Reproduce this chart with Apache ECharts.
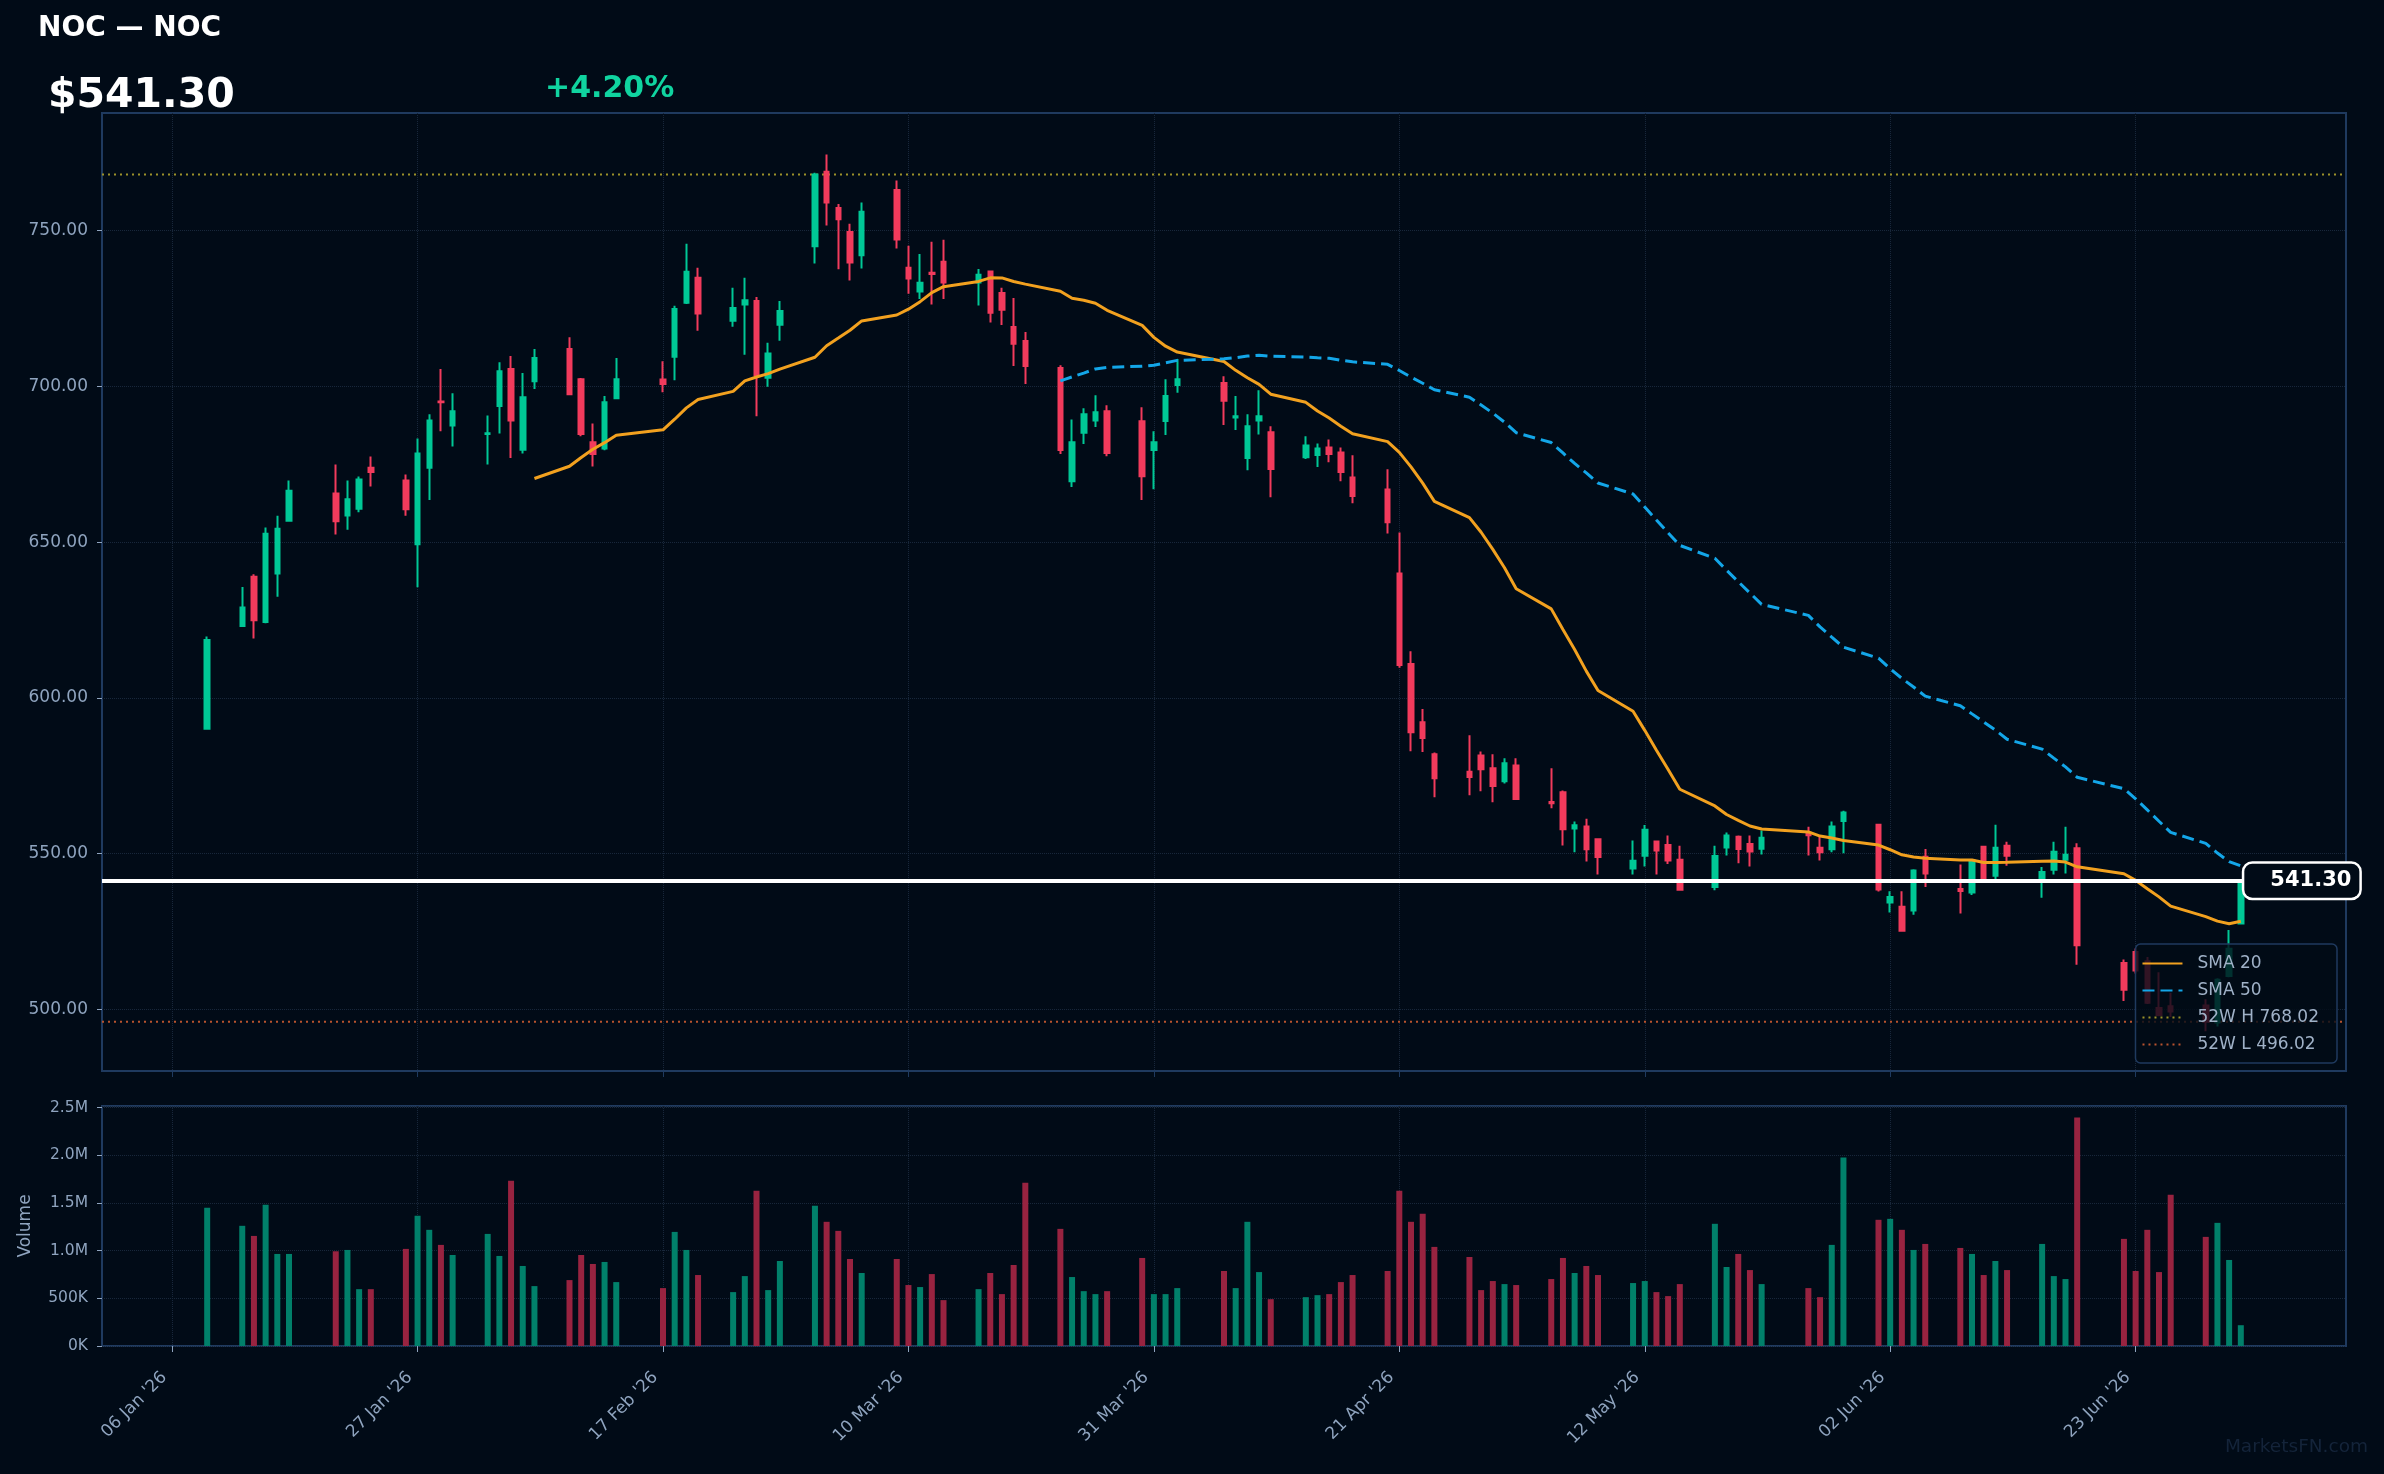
<!DOCTYPE html>
<html>
<head>
<meta charset="utf-8">
<title>NOC — NOC</title>
<script src="https://cdn.jsdelivr.net/npm/echarts@6/dist/echarts.min.js"></script>
<style>
  html, body { margin: 0; padding: 0; background: #010b17; }
  #chart { width: 2384px; height: 1474px; }
</style>
</head>
<body>
<div id="chart"></div>
<script>
// trading days (NYSE calendar, Jan 9 - Jul 2 2026)
var dates = [
    '2026-01-09','2026-01-12','2026-01-13','2026-01-14','2026-01-15','2026-01-16','2026-01-20','2026-01-21','2026-01-22','2026-01-23','2026-01-26','2026-01-27','2026-01-28','2026-01-29','2026-01-30',
    '2026-02-02','2026-02-03','2026-02-04','2026-02-05','2026-02-06','2026-02-09','2026-02-10','2026-02-11','2026-02-12','2026-02-13','2026-02-17','2026-02-18','2026-02-19','2026-02-20','2026-02-23','2026-02-24','2026-02-25','2026-02-26','2026-02-27',
    '2026-03-02','2026-03-03','2026-03-04','2026-03-05','2026-03-06','2026-03-09','2026-03-10','2026-03-11','2026-03-12','2026-03-13','2026-03-16','2026-03-17','2026-03-18','2026-03-19','2026-03-20','2026-03-23','2026-03-24','2026-03-25','2026-03-26','2026-03-27','2026-03-30','2026-03-31',
    '2026-04-01','2026-04-02','2026-04-06','2026-04-07','2026-04-08','2026-04-09','2026-04-10','2026-04-13','2026-04-14','2026-04-15','2026-04-16','2026-04-17','2026-04-20','2026-04-21','2026-04-22','2026-04-23','2026-04-24','2026-04-27','2026-04-28','2026-04-29','2026-04-30',
    '2026-05-01','2026-05-04','2026-05-05','2026-05-06','2026-05-07','2026-05-08','2026-05-11','2026-05-12','2026-05-13','2026-05-14','2026-05-15','2026-05-18','2026-05-19','2026-05-20','2026-05-21','2026-05-22','2026-05-26','2026-05-27','2026-05-28','2026-05-29',
    '2026-06-01','2026-06-02','2026-06-03','2026-06-04','2026-06-05','2026-06-08','2026-06-09','2026-06-10','2026-06-11','2026-06-12','2026-06-15','2026-06-16','2026-06-17','2026-06-18','2026-06-22','2026-06-23','2026-06-24','2026-06-25','2026-06-26','2026-06-29','2026-06-30',
    '2026-07-01','2026-07-02'
];
var opens = [
    590.1, 623.1, 638.9, 624.4, 639.9, 656.9, 665.6, 658.6, 660.7, 673.9, 669.8, 649.3, 673.9, 695.2, 687.5,
    684.7, 693.7, 705.6, 679.7, 701.7, 712.0, 702.3, 682.1, 680.1, 696.2, 702.2, 709.5, 726.9, 734.9, 721.1, 726.3, 727.4, 702.8, 719.8,
    745.0, 768.9, 757.3, 749.6, 742.1, 763.1, 738.1, 730.5, 736.5, 740.0, 733.4, 736.9, 730.0, 719.1, 714.6, 705.9, 669.6, 685.1, 689.1, 692.0, 688.8, 679.6,
    688.9, 700.5, 701.1, 690.0, 677.0, 689.1, 685.3, 677.3, 678.0, 680.4, 678.8, 670.8, 666.9, 639.9, 610.9, 592.2, 581.9, 576.3, 581.5, 577.4, 573.2,
    578.3, 566.6, 569.7, 558.1, 558.7, 554.6, 545.2, 549.3, 553.9, 552.8, 548.0, 539.3, 552.0, 555.4, 553.1, 551.6, 556.7, 551.9, 551.4, 560.5,
    559.3, 534.3, 532.9, 531.7, 549.0, 538.6, 537.5, 552.2, 542.9, 552.5, 541.2, 544.8, 548.0, 551.7, 514.9, 518.4, 515.4, 500.4, 501.0, 501.2, 495.8,
    510.7, 527.6
];
var highs = [
    619.7, 635.6, 639.7, 654.7, 658.5, 669.8, 674.9, 669.8, 671.1, 677.5, 671.7, 683.3, 691.1, 705.6, 697.8,
    690.7, 707.8, 709.8, 704.3, 712.0, 715.8, 702.7, 688.1, 696.9, 709.1, 708.1, 725.9, 745.8, 738.1, 731.7, 734.9, 728.7, 714.0, 727.4,
    768.6, 774.5, 758.6, 752.2, 759.1, 766.1, 745.2, 742.5, 746.5, 747.1, 737.7, 737.1, 731.7, 728.4, 717.5, 706.8, 689.4, 693.0, 697.2, 694.0, 693.3, 685.6,
    702.3, 708.8, 703.3, 696.9, 691.1, 698.8, 687.2, 684.0, 681.7, 683.0, 680.4, 677.9, 673.4, 653.1, 615.0, 596.4, 582.5, 588.0, 582.8, 581.9, 580.6,
    580.6, 577.4, 570.3, 560.3, 561.2, 554.8, 554.2, 559.2, 554.2, 555.8, 552.5, 552.5, 556.8, 555.8, 555.8, 557.4, 558.6, 555.4, 560.3, 563.8,
    559.6, 537.9, 537.9, 545.0, 551.5, 546.5, 548.3, 552.5, 559.3, 553.8, 545.7, 553.8, 558.6, 553.3, 516.0, 519.5, 516.8, 511.9, 505.3, 503.2, 510.0,
    525.5, 541.8
];
var lows = [
    590.0, 622.8, 619.1, 624.0, 632.5, 656.7, 652.5, 654.0, 659.6, 667.9, 658.5, 635.5, 663.5, 685.6, 680.7,
    674.9, 684.9, 677.0, 678.5, 699.2, 697.3, 684.0, 674.3, 679.5, 695.9, 698.1, 702.0, 726.5, 717.9, 719.2, 710.2, 690.4, 699.9, 714.7,
    739.5, 751.7, 737.6, 734.0, 737.9, 744.3, 729.8, 728.1, 726.3, 728.1, 726.0, 720.5, 719.7, 706.6, 700.8, 678.3, 667.7, 681.5, 687.0, 677.6, 663.5, 667.0,
    684.4, 698.0, 687.6, 686.0, 673.1, 684.6, 664.4, 676.7, 674.1, 675.7, 669.6, 662.5, 652.8, 609.7, 582.9, 582.6, 568.1, 568.7, 570.0, 566.5, 572.5,
    567.3, 564.6, 552.6, 550.4, 547.5, 543.3, 543.3, 545.9, 543.3, 546.7, 538.2, 538.2, 549.4, 546.9, 545.9, 549.7, 549.4, 547.8, 550.4, 550.1,
    537.8, 531.1, 524.9, 530.4, 539.3, 530.8, 536.7, 541.0, 541.3, 546.1, 535.8, 543.3, 543.6, 514.3, 502.7, 511.5, 501.7, 497.8, 497.5, 493.0, 494.5,
    510.3, 527.3
];
var closes = [
    618.6, 629.0, 624.9, 652.7, 654.3, 666.5, 656.7, 663.8, 670.1, 672.5, 660.6, 678.5, 689.1, 694.9, 692.0,
    685.0, 704.9, 689.1, 696.5, 709.1, 697.5, 684.7, 678.3, 694.9, 702.3, 700.8, 724.9, 736.8, 723.4, 725.2, 727.7, 703.6, 710.6, 724.2,
    768.02, 759.1, 753.7, 739.8, 756.1, 747.2, 734.7, 733.3, 736.1, 733.4, 735.9, 723.7, 724.6, 713.7, 706.6, 679.6, 682.1, 691.1, 691.7, 678.6, 671.2, 682.1,
    696.9, 702.3, 695.4, 690.4, 687.2, 690.4, 673.5, 681.0, 680.1, 678.3, 672.5, 664.8, 656.4, 610.6, 589.0, 587.1, 574.2, 574.6, 577.1, 571.7, 579.0,
    567.5, 566.2, 557.8, 559.1, 551.4, 548.9, 547.7, 557.7, 551.0, 547.8, 538.4, 549.2, 555.8, 551.5, 550.7, 555.1, 555.9, 550.4, 558.7, 563.2,
    538.5, 536.1, 525.2, 544.6, 543.6, 538.0, 547.8, 541.2, 551.9, 549.3, 544.1, 550.6, 549.6, 520.6, 506.3, 512.5, 502.1, 498.2, 499.3, 496.02, 509.5,
    519.48, 541.30
];
var volumes = [
    1449000, 1260000, 1154000, 1481000, 965000, 965000, 993000, 1007000, 596000, 596000, 1018000, 1365000, 1218000, 1060000, 954000,
    1175000, 944000, 1733000, 839000, 628000, 691000, 954000, 860000, 881000, 670000, 607000, 1196000, 1007000, 744000, 565000, 733000, 1628000, 586000, 891000,
    1470000, 1302000, 1207000, 912000, 765000, 912000, 639000, 618000, 754000, 481000, 596000, 765000, 544000, 849000, 1712000, 1228000, 723000, 575000, 544000, 575000, 923000, 544000,
    544000, 607000, 786000, 607000, 1302000, 775000, 491000, 512000, 533000, 544000, 670000, 744000, 786000, 1628000, 1302000, 1386000, 1039000, 933000, 586000, 681000, 649000,
    639000, 702000, 923000, 765000, 839000, 744000, 660000, 681000, 565000, 523000, 649000, 1281000, 828000, 965000, 796000, 649000, 607000, 512000, 1060000, 1975000,
    1323000, 1333000, 1218000, 1007000, 1070000, 1028000, 965000, 744000, 891000, 796000, 1070000, 733000, 702000, 2396000, 1123000, 786000, 1218000, 775000, 1586000, 1144000, 1291000,
    902000, 218000
];

var tickDates = ['2026-01-06','2026-01-27','2026-02-17','2026-03-10','2026-03-31','2026-04-21','2026-05-12','2026-06-02','2026-06-23'];
var priceTicks = [500, 550, 600, 650, 700, 750];
var axisStart = '2025-12-31';
var axisEnd = '2026-07-11';
var high52 = 768.02;
var low52 = 496.02;
var lastPrice = 541.30;
var changeText = '+4.20%';

var FONT = 'DejaVu Sans';
var AXIS_TEXT = '#8fa4bf';
var GRID_LINE = '#18273b';
var FRAME = '#1f3a5f';
var UP = '#00c896', DOWN = '#f23b5c';
var UP_VOL = '#01806a', DOWN_VOL = '#982340';
var SMA20_COLOR = '#f2a11f', SMA50_COLOR = '#13a6e8';
var HIGH_COLOR = '#9c922a', LOW_COLOR = '#b8532e';
var MONTHS = ['Jan','Feb','Mar','Apr','May','Jun','Jul','Aug','Sep','Oct','Nov','Dec'];

// one category per calendar day, so weekends leave gaps like the original
var calendar = [];
for (var t = Date.parse(axisStart); t <= Date.parse(axisEnd); t += 86400000) {
    calendar.push(new Date(t).toISOString().slice(0, 10));
}
function isTick(idx, value) { return tickDates.indexOf(value) !== -1; }
function tickLabel(d) {
    var p = d.split('-');
    return p[2] + ' ' + MONTHS[+p[1] - 1] + " '" + p[0].slice(2);
}
function sma(n) {
    var out = [];
    for (var i = n - 1; i < closes.length; i++) {
        var s = 0;
        for (var j = i - n + 1; j <= i; j++) s += closes[j];
        out.push([dates[i], s / n]);
    }
    return out;
}

var candleRows = dates.map(function (d, i) { return [d, opens[i], closes[i], lows[i], highs[i]]; });
var volumeRows = dates.map(function (d, i) {
    return { value: [d, volumes[i]], itemStyle: { color: closes[i] >= opens[i] ? UP_VOL : DOWN_VOL } };
});
var lastDate = dates[dates.length - 1];

var chart = echarts.init(document.getElementById('chart'));
var option = {
    animation: false,
    backgroundColor: '#010b17',
    textStyle: { fontFamily: FONT },
    grid: [
        { left: 102, top: 113, width: 2244, height: 958, show: true, borderColor: FRAME, borderWidth: 2, backgroundColor: 'transparent' },
        { left: 102, top: 1106, width: 2244, height: 240, show: true, borderColor: FRAME, borderWidth: 2, backgroundColor: 'transparent' }
    ],
    legend: {
        orient: 'vertical', right: 47, bottom: 411,
        data: ['SMA 20', 'SMA 50', '52W H ' + high52.toFixed(2), '52W L ' + low52.toFixed(2)],
        itemWidth: 40, itemHeight: 18, itemGap: 10,
        padding: [11, 18, 10, 6],
        itemStyle: { opacity: 0 },
        backgroundColor: 'rgba(1,11,23,0.8)', borderColor: FRAME, borderWidth: 1.5, borderRadius: 5,
        textStyle: { color: '#9fb1c7', fontSize: 17, fontFamily: FONT, padding: [0, 0, 0, 10] },
        selectedMode: false
    },
    xAxis: [
        {
            type: 'category', gridIndex: 0, data: calendar, boundaryGap: false,
            axisLine: { show: false },
            axisLabel: { show: false },
            axisTick: { show: true, interval: isTick, length: 6, lineStyle: { color: FRAME } },
            splitLine: { show: true, interval: isTick, lineStyle: { color: GRID_LINE, type: 'dotted', width: 1 } }
        },
        {
            type: 'category', gridIndex: 1, data: calendar, boundaryGap: false,
            axisLine: { show: false },
            axisLabel: { interval: isTick, rotate: 45, margin: 21, padding: [0, 11, 0, 0], color: AXIS_TEXT, fontSize: 17, fontFamily: FONT, formatter: tickLabel },
            axisTick: { show: true, interval: isTick, length: 6, lineStyle: { color: AXIS_TEXT } },
            splitLine: { show: true, interval: isTick, lineStyle: { color: GRID_LINE, type: 'dotted', width: 1 } }
        }
    ],
    yAxis: [
        {
            type: 'value', gridIndex: 0, min: 480.2, max: 787.8, scale: true,
            axisLine: { show: false },
            axisTick: { show: true, customValues: priceTicks, length: 5, lineStyle: { color: AXIS_TEXT } },
            axisLabel: { customValues: priceTicks, margin: 14, color: AXIS_TEXT, fontSize: 17, fontFamily: FONT,
                formatter: function (v) { return v.toFixed(2); } },
            splitLine: { show: true, lineStyle: { color: GRID_LINE, type: 'dotted', width: 1 } }
        },
        {
            type: 'value', gridIndex: 1, min: 0, max: 2516000, interval: 500000,
            axisLine: { show: false },
            axisTick: { show: true, length: 5, lineStyle: { color: AXIS_TEXT } },
            axisLabel: { showMaxLabel: false, margin: 14, color: AXIS_TEXT, fontSize: 15.5, fontFamily: FONT,
                formatter: function (v) {
                    if (v === 0) return '0K';
                    if (v < 1000000) return Math.round(v / 1000) + 'K';
                    return (v / 1000000).toFixed(1) + 'M';
                } },
            splitLine: { show: true, lineStyle: { color: GRID_LINE, type: 'dotted', width: 1 } }
        }
    ],
    series: [
        {
            name: '52W H ' + high52.toFixed(2), type: 'line', xAxisIndex: 0, yAxisIndex: 0,
            data: [[axisStart, high52], [axisEnd, high52]],
            symbol: 'none', silent: true, color: HIGH_COLOR,
            lineStyle: { color: HIGH_COLOR, width: 2, type: [2, 4] }, z: 1
        },
        {
            name: '52W L ' + low52.toFixed(2), type: 'line', xAxisIndex: 0, yAxisIndex: 0,
            data: [[axisStart, low52], [axisEnd, low52]],
            symbol: 'none', silent: true, color: LOW_COLOR,
            lineStyle: { color: LOW_COLOR, width: 2, type: [2, 4] }, z: 1
        },
        {
            name: 'NOC', type: 'candlestick', xAxisIndex: 0, yAxisIndex: 0,
            data: candleRows,
            encode: { x: 0, y: [1, 2, 3, 4] },
            barWidth: 5,
            itemStyle: { color: UP, color0: DOWN, borderColor: UP, borderColor0: DOWN, borderWidth: 2 },
            markLine: {
                silent: true, symbol: ['none', 'none'],
                lineStyle: { color: '#ffffff', width: 4, type: 'solid' },
                label: { show: false },
                data: [{ yAxis: lastPrice }]
            },
            markPoint: {
                silent: true, symbol: 'circle', symbolSize: 1,
                itemStyle: { color: 'rgba(0,0,0,0)' },
                data: [{ coord: [lastDate, lastPrice] }],
                label: {
                    show: true, position: 'right', distance: 3,
                    formatter: lastPrice.toFixed(2),
                    color: '#ffffff', fontFamily: FONT, fontWeight: 'bold', fontSize: 21,
                    backgroundColor: '#010b17', borderColor: '#ffffff', borderWidth: 2.5, borderRadius: 8,
                    padding: [7, 8, 6, 26]
                }
            }
        },
        {
            name: 'SMA 20', type: 'line', xAxisIndex: 0, yAxisIndex: 0,
            data: sma(20), symbol: 'none', silent: true, color: SMA20_COLOR,
            lineStyle: { color: SMA20_COLOR, width: 3 }
        },
        {
            name: 'SMA 50', type: 'line', xAxisIndex: 0, yAxisIndex: 0,
            data: sma(50), symbol: 'none', silent: true, color: SMA50_COLOR,
            lineStyle: { color: SMA50_COLOR, width: 3, type: [12, 6] }
        },
        {
            name: 'Volume', type: 'bar', xAxisIndex: 1, yAxisIndex: 1,
            data: volumeRows, barWidth: 6, silent: true
        }
    ],
    graphic: [
        { type: 'text', x: 38, y: 29, style: { text: 'NOC — NOC', fill: '#ffffff', font: 'bold 28px "DejaVu Sans"', verticalAlign: 'middle' } },
        { type: 'text', x: 48, y: 96, style: { text: '$' + lastPrice.toFixed(2), fill: '#ffffff', font: 'bold 41px "DejaVu Sans"', verticalAlign: 'middle' } },
        { type: 'text', x: 545, y: 89, style: { text: changeText, fill: '#10d4a0', font: 'bold 30px "DejaVu Sans"', verticalAlign: 'middle' } },
        { type: 'text', x: 26, y: 1226, rotation: Math.PI / 2, style: { text: 'Volume', fill: AXIS_TEXT, font: '17px "DejaVu Sans"', align: 'center', verticalAlign: 'middle' } },
        { type: 'text', x: 2368, y: 1447, style: { text: 'MarketsFN.com', fill: '#14243a', font: '18.5px "DejaVu Sans"', align: 'right', verticalAlign: 'middle' } }
    ]
};
chart.setOption(option);
</script>
</body>
</html>
